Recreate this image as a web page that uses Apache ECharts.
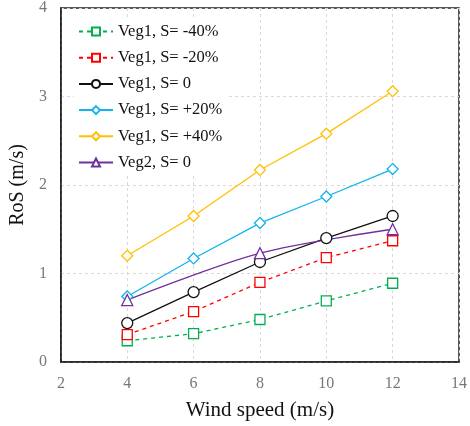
<!DOCTYPE html>
<html><head><meta charset="utf-8">
<script src="https://cdn.jsdelivr.net/npm/echarts@6/dist/echarts.min.js"></script>
<style>html,body{margin:0;padding:0;background:#fff}#c{width:470px;height:426px}</style>
</head><body><div id="c"></div>
<script>
const windSpeeds = [4, 6, 8, 10, 12];
const seriesNames = ['Veg1, S= -40%', 'Veg1, S= -20%', 'Veg1, S= 0', 'Veg1, S= +20%', 'Veg1, S= +40%', 'Veg2, S= 0'];
const vegM40 = [0.24, 0.32, 0.48, 0.69, 0.89];
const vegM20 = [0.31, 0.57, 0.90, 1.18, 1.37];
const veg0 = [0.44, 0.79, 1.13, 1.40, 1.65];
const vegP20 = [0.74, 1.17, 1.57, 1.87, 2.18];
const vegP40 = [1.20, 1.65, 2.17, 2.58, 3.06];
const veg2X = [4, 8, 12];
const veg2 = [0.70, 1.23, 1.50];
const xTicks = [2, 4, 6, 8, 10, 12, 14];
const yTicks = [0, 1, 2, 3, 4];

const font = 'Liberation Serif, Times New Roman, serif';
const pair = (xs, ys) => xs.map((x, i) => [x, ys[i]]);
function mk(name, xs, ys, color, symbol, size, dashed, smooth) {
  return {
    name, type: 'line', data: pair(xs, ys), symbol, symbolSize: size,
    smooth: smooth || false,
    itemStyle: { color: '#fff', borderColor: color, borderWidth: 1.3 },
    lineStyle: { color, width: 1.3, type: dashed ? [4, 4] : 'solid' },
    emphasis: { disabled: true }
  };
}
const chart = echarts.init(document.getElementById('c'));
chart.setOption({
  animation: false,
  grid: { left: 57, right: 9, top: 7, bottom: 62, show: true, borderColor: '#222', borderWidth: 1.5, backgroundColor: 'transparent' },
  legend: {
    orient: 'vertical', left: 74, top: 19, itemWidth: 34, itemHeight: 10, itemGap: 9.2,
    backgroundColor: '#fff', padding: [4, 6, 4, 4],
    textStyle: { fontFamily: font, fontSize: 16.5, color: '#111' },
    data: seriesNames.map(n => ({ name: n }))
  },
  xAxis: {
    type: 'value', min: 2, max: 14, interval: 2,
    name: 'Wind speed (m/s)', nameLocation: 'middle', nameGap: 38,
    nameTextStyle: { fontFamily: font, fontSize: 21, color: '#111' },
    axisLine: { lineStyle: { color: '#222', width: 1.5 } },
    axisTick: { show: false },
    axisLabel: { fontFamily: font, fontSize: 16, color: '#777', margin: 14, formatter: v => xTicks.includes(v) ? String(v) : '' },
    splitLine: { show: true, lineStyle: { color: '#d9d9d9', type: [3, 3] } }
  },
  yAxis: {
    type: 'value', min: 0, max: 4, interval: 1,
    name: 'RoS (m/s)', nameLocation: 'middle', nameGap: 29,
    nameTextStyle: { fontFamily: font, fontSize: 20, color: '#111' },
    axisLine: { show: true, lineStyle: { color: '#222', width: 1.5 } },
    axisTick: { show: false },
    axisLabel: { fontFamily: font, fontSize: 16, color: '#777', margin: 14, formatter: v => yTicks.includes(v) ? String(v) : '' },
    splitLine: { show: true, lineStyle: { color: '#d9d9d9', type: [3, 3] } }
  },
  series: [
    mk(seriesNames[0], windSpeeds, vegM40, '#00B050', 'rect', 10, true),
    mk(seriesNames[1], windSpeeds, vegM20, '#FF0000', 'rect', 10, true),
    mk(seriesNames[2], windSpeeds, veg0, '#111111', 'circle', 11, false),
    mk(seriesNames[3], windSpeeds, vegP20, '#10B4F0', 'diamond', 11, false),
    mk(seriesNames[4], windSpeeds, vegP40, '#FFC000', 'diamond', 11, false),
    mk(seriesNames[5], veg2X, veg2, '#7030A0', 'triangle', 11, false, 0.3)
  ]
});
</script></body></html>
